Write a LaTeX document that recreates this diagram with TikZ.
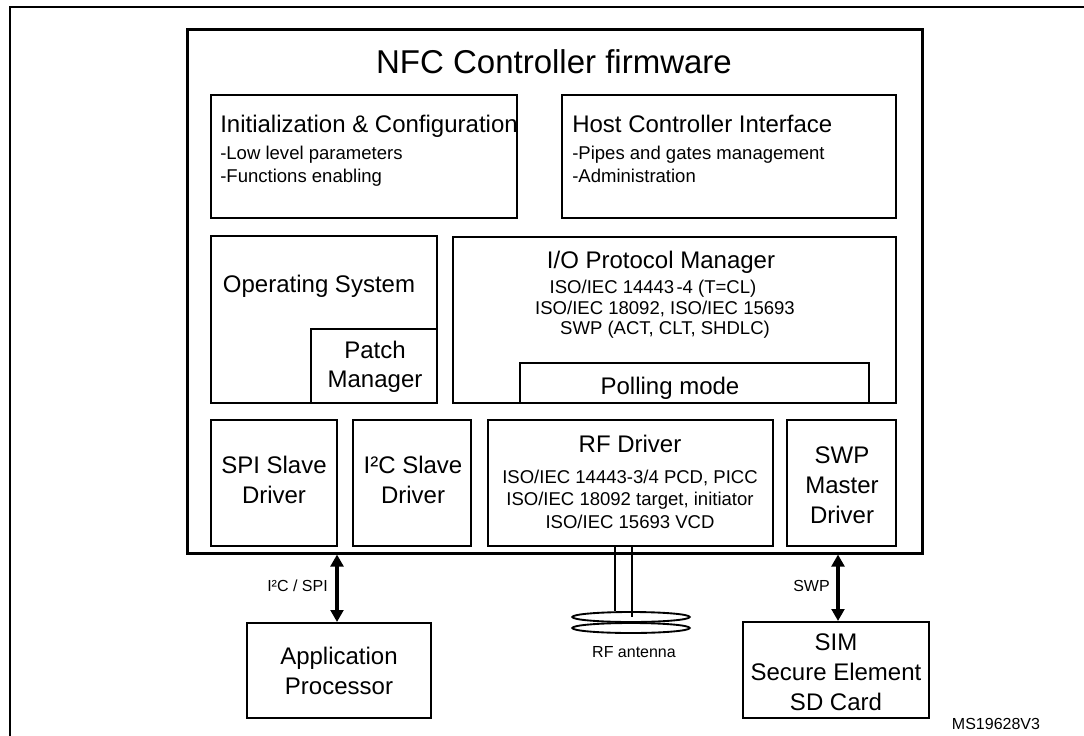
\documentclass[tikz,border=0pt]{standalone}
\usepackage{fontspec}
\setmainfont{Liberation Sans}
\usetikzlibrary{arrows.meta,fit,shapes.geometric}
\begin{document}
\begin{tikzpicture}[x=0.75pt,y=-0.75pt,
  box/.style={draw, line width=1.5pt, inner sep=0pt},
  bigbox/.style={draw, line width=2.25pt, inner sep=0pt},
  ttl/.style={font=\fontsize{18}{22.5}\selectfont, inner sep=0pt},
  sub/.style={font=\fontsize{13.9}{17}\selectfont, inner sep=0pt},
  big/.style={font=\fontsize{24.75}{30}\selectfont, inner sep=0pt},
  lbl/.style={font=\fontsize{12}{14}\selectfont, inner sep=0pt},
  link/.style={line width=3pt, {Triangle[length=9pt,width=9.5pt]}-{Triangle[length=9pt,width=9.5pt]}},
  wire/.style={line width=1.5pt},
  coil/.style={draw, ellipse, line width=1.4pt, minimum width=88pt, minimum height=7.5pt, inner sep=0pt},
]
\useasboundingbox (0,0) rectangle (1084,735);
% outer frame (cut by the page)
\coordinate (fbl) at (10,740);
\coordinate (ftl) at (10,7);
\coordinate (ftr) at (1090,7);
\draw[line width=1.5pt] (fbl) -- (ftl) -- (ftr);

% main firmware box
\node[bigbox, fit={(187,30) (922,553)}] (main) {};
\node[big, anchor=base] (title) at (554,74) {NFC Controller firmware};

% init & config
\node[box, fit={(211,95) (517,218)}] (init) {};
\node[ttl, anchor=base west] (initT) at (220,132) {Initialization \& Configuration};
\node[sub, anchor=base west] (initA) at (220,159) {-Low level parameters};
\node[sub, anchor=base west] (initB) at (220,182) {-Functions enabling};

% host controller interface
\node[box, fit={(562,95) (896,218)}] (hci) {};
\node[ttl, anchor=base west] (hciT) at (572,132) {Host Controller Interface};
\node[sub, anchor=base west] (hciA) at (572,159) {-Pipes and gates management};
\node[sub, anchor=base west] (hciB) at (572,182) {-Administration};

% operating system
\node[box, fit={(211,236) (437,403)}] (os) {};
\node[ttl, anchor=base] (osT) at (319,292) {Operating System};
\node[box, fill=white, fit={(311,329) (437,403)}] (patch) {};
\node[ttl, anchor=base] (patchA) at (375,358) {Patch};
\node[ttl, anchor=base] (patchB) at (375,387) {Manager};

% I/O protocol manager
\node[box, fit={(453,237) (896,403)}] (io) {};
\node[ttl, anchor=base] (ioT) at (661,268) {I/O Protocol Manager};
\node[sub, anchor=base] (ioA) at (653,293) {ISO/IEC 14443\hspace{0.12em}-4 (T=CL)};
\node[sub, anchor=base] (ioB) at (665,314) {ISO/IEC 18092, ISO/IEC 15693};
\node[sub, anchor=base] (ioC) at (665,334) {SWP (ACT, CLT, SHDLC)};
\node[box, fill=white, fit={(520,363) (869,403)}] (poll) {};
\node[ttl, anchor=base] (pollT) at (670,394) {Polling mode};

% drivers
\node[box, fit={(211,420) (337,546)}] (spi) {};
\node[ttl, anchor=base] (spiA) at (274,473) {SPI Slave};
\node[ttl, anchor=base] (spiB) at (274,503) {Driver};

\node[box, fit={(353,420) (471,546)}] (i2c) {};
\node[ttl, anchor=base] (i2cA) at (413,473) {I²C Slave};
\node[ttl, anchor=base] (i2cB) at (413,503) {Driver};

\node[box, fit={(488,420) (773,546)}] (rf) {};
\node[ttl, anchor=base] (rfT) at (630,452) {RF Driver};
\node[sub, anchor=base] (rfA) at (630,483) {ISO/IEC 14443-3/4 PCD, PICC};
\node[sub, anchor=base] (rfB) at (630,505) {ISO/IEC 18092 target, initiator};
\node[sub, anchor=base] (rfC) at (630,528) {ISO/IEC 15693 VCD};

\node[box, fit={(787,420) (896,546)}] (swp) {};
\node[ttl, anchor=base] (swpA) at (842,463) {SWP};
\node[ttl, anchor=base] (swpB) at (842,493) {Master};
\node[ttl, anchor=base] (swpC) at (842,523) {Driver};

% external blocks
\node[box, fit={(247,623) (431,718)}] (app) {};
\node[ttl, anchor=base] (appA) at (339,664) {Application};
\node[ttl, anchor=base] (appB) at (339,694) {Processor};

\node[box, fit={(743,622) (929,718)}] (sim) {};
\node[ttl, anchor=base] (simA) at (836,650) {SIM};
\node[ttl, anchor=base] (simB) at (836,680) {Secure Element};
\node[ttl, anchor=base] (simC) at (836,710) {SD Card};

% links
\draw[link] (main.south -| 337,0) -- (app.north -| 337,0);
\node[lbl, anchor=base east] (l1) at (328,591) {I²C / SPI};
\draw[link] (main.south -| 838,0) -- (sim.north -| 838,0);
\node[lbl, anchor=base east] (l2) at (830,591) {SWP};

% antenna
\node[coil] (coilA) at (631,617) {};
\node[coil] (coilB) at (631,628) {};
\draw[wire] (rf.south -| 615,0) -- (coilA.north -| 615,0);
\draw[wire] (rf.south -| 632,0) -- (coilA.center -| 632,0);
\node[lbl, anchor=base] (ant) at (634,657) {RF antenna};

\node[lbl, anchor=base] (ref) at (996,729) {MS19628V3};
\end{tikzpicture}
\end{document}
